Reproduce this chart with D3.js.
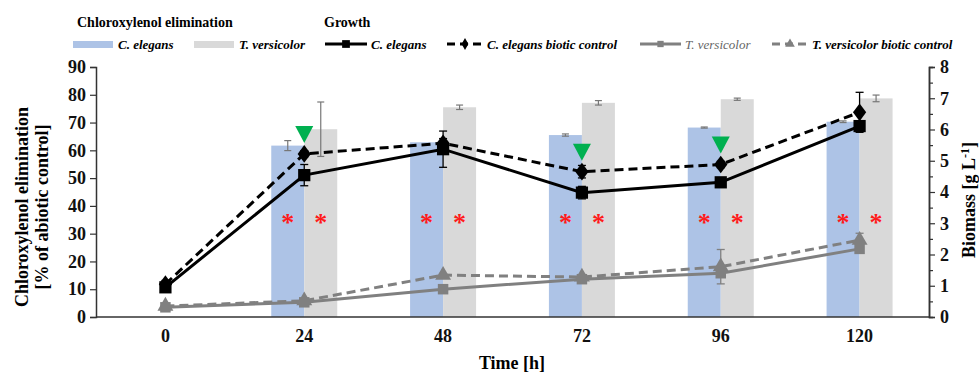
<!DOCTYPE html>
<html><head><meta charset="utf-8">
<script src="https://cdn.jsdelivr.net/npm/d3@7"></script>
<style>body{margin:0;background:#fff}svg{display:block}text{font-family:"Liberation Serif","Times New Roman",serif}</style>
</head><body><svg id="c" width="979" height="374"></svg>
<script>
const times = ["0","24","48","72","96","120"];
const leftTicks = [0,10,20,30,40,50,60,70,80,90];
const rightTicks = [0,1,2,3,4,5,6,7,8];
// Chloroxylenol elimination (% of abiotic control)
const elimCe = [null,61.7,62.9,65.5,68.2,70.3];
const elimCeErr = [null,1.8,0,0.4,0.2,0.3];
const elimTv = [null,67.6,75.5,77.1,78.4,78.7];
const elimTvErr = [null,9.8,0.8,0.8,0.4,1.2];
// Biomass (g/L)
const bioCe = [0.95,4.54,5.37,3.98,4.31,6.11];
const bioCeErr = [0.1,0.34,0.58,0.2,0.1,0.1];
const bioCeCtrl = [1.05,5.22,5.56,4.65,4.88,6.55];
const bioCeCtrlErr = [0.12,0.1,0.15,0.2,0.1,0.64];
const bioTv = [0.31,0.47,0.89,1.21,1.40,2.18];
const bioTvErr = [0.05,0.05,0.05,0.05,0.1,0.1];
const bioTvCtrl = [0.35,0.52,1.34,1.28,1.61,2.46];
const bioTvCtrlErr = [0.05,0.05,0.05,0.05,0.55,0.22];
const greenMarks = ["24","72","96"];
const starLevel = 34.3;

const svg = d3.select("#c");
const L=96,R=929,T=67,B=317;
const x = d3.scaleBand().domain(times).range([L,R]);
const yL = d3.scaleLinear().domain([0,90]).range([B,T]);
const yR = d3.scaleLinear().domain([0,8]).range([B,T]);
const cx = d=>x(d)+x.bandwidth()/2;
const bw = 33;
const blue="#adc3e6", lgray="#d9d9d9", mgray="#808080";

// bars
const g = svg.append("g");
times.forEach((t,i)=>{
  if(elimCe[i]!=null){
    g.append("rect").attr("x",cx(t)-bw).attr("width",bw).attr("y",yL(elimCe[i])).attr("height",B-yL(elimCe[i])).attr("fill",blue);
  }
  if(elimTv[i]!=null){
    g.append("rect").attr("x",cx(t)).attr("width",bw).attr("y",yL(elimTv[i])).attr("height",B-yL(elimTv[i])).attr("fill",lgray);
  }
});
function errBar(xp,yv,e,scale,color,w,cap){
  if(!e) return;
  g.append("line").attr("x1",xp).attr("x2",xp).attr("y1",scale(yv-e)).attr("y2",scale(yv+e)).attr("stroke",color).attr("stroke-width",w);
  [yv-e,yv+e].forEach(v=>g.append("line").attr("x1",xp-cap).attr("x2",xp+cap).attr("y1",scale(v)).attr("y2",scale(v)).attr("stroke",color).attr("stroke-width",w));
}
times.forEach((t,i)=>{
  if(elimCe[i]!=null) errBar(cx(t)-bw/2,elimCe[i],elimCeErr[i],yL,"#777",1.2,3.5);
  if(elimTv[i]!=null) errBar(cx(t)+bw/2,elimTv[i],elimTvErr[i],yL,"#777",1.2,3.5);
});
// stars
times.forEach((t,i)=>{
  if(elimCe[i]==null) return;
  [cx(t)-bw/2,cx(t)+bw/2].forEach(xp=>g.append("text").attr("x",xp).attr("y",yL(starLevel)+9).attr("text-anchor","middle").attr("font-size",26).attr("font-weight","bold").attr("fill","#ff1a1a").text("*"));
});

// axes
const axL = svg.append("g").attr("transform",`translate(${L},0)`).call(d3.axisLeft(yL).tickValues(leftTicks).tickSize(6).tickPadding(4));
const axR = svg.append("g").attr("transform",`translate(${R},0)`).call(d3.axisRight(yR).tickValues(rightTicks).tickSize(6).tickPadding(5));
svg.append("g").attr("transform",`translate(${R},0)`).call(d3.axisRight(yR).tickValues(d3.range(0.5,8,1)).tickSize(4).tickFormat(""));
const axB = svg.append("g").attr("transform",`translate(0,${B})`).call(d3.axisBottom(x).tickSize(0).tickPadding(12));
svg.selectAll(".domain").attr("stroke","#333").attr("stroke-width",1.5);
svg.selectAll(".tick line").attr("stroke","#333").attr("stroke-width",1.2);
svg.selectAll(".tick text").attr("font-family","Liberation Serif").attr("font-size",18).attr("font-weight","bold").attr("fill","#111");
axB.select(".domain").attr("d",`M${L},0H${R}`);

// lines
function series(vals,errs,color,dash,marker,msize){
  const line = d3.line().x((d,i)=>cx(times[i])).y(d=>yR(d));
  times.forEach((t,i)=>errBar(cx(t),vals[i],errs[i],yR,color,1.3,4));
  g.append("path").datum(vals).attr("d",line).attr("fill","none").attr("stroke",color).attr("stroke-width",3).attr("stroke-dasharray",dash);
  const sym = d3.symbol().type(marker).size(msize);
  vals.forEach((v,i)=>g.append("path").attr("d",sym()).attr("transform",`translate(${cx(times[i])},${yR(v)})${marker===d3.symbolDiamond?" scale(1.3,1)":""}`).attr("fill",color));
}
series(bioTvCtrl,bioTvCtrlErr,mgray,"9,5",d3.symbolTriangle,110);
series(bioTv,bioTvErr,mgray,null,d3.symbolSquare,110);
series(bioCeCtrl,bioCeCtrlErr,"#000","9,5",d3.symbolDiamond,90);
series(bioCe,bioCeErr,"#000",null,d3.symbolSquare,150);

// green triangles
greenMarks.forEach(t=>{
  const i = times.indexOf(t);
  const yy = yR(bioCeCtrl[i]) - 19;
  g.append("path").attr("d",`M${cx(t)-9},${yy-9}L${cx(t)+9},${yy-9}L${cx(t)},${yy+8}Z`).attr("fill","#00b050");
});

// titles
svg.append("text").attr("transform","translate(28,207) rotate(-90)").attr("text-anchor","middle").attr("font-size",18).attr("font-weight","bold").text("Chloroxylenol elimination");
svg.append("text").attr("transform","translate(48,207) rotate(-90)").attr("text-anchor","middle").attr("font-size",18).attr("font-weight","bold").text("[% of abiotic control]");
const rt = svg.append("text").attr("transform","translate(975,200) rotate(-90)").attr("text-anchor","middle").attr("font-size",18).attr("font-weight","bold");
rt.append("tspan").text("Biomass [g L");
rt.append("tspan").attr("dy",-6).attr("font-size",12).text("-1");
rt.append("tspan").attr("dy",6).text("]");
svg.append("text").attr("x",512).attr("y",369).attr("text-anchor","middle").attr("font-size",18).attr("font-weight","bold").text("Time [h]");

// legend
const lg = svg.append("g");
lg.append("text").attr("x",77).attr("y",27).attr("font-size",14).attr("font-weight","bold").text("Chloroxylenol elimination");
lg.append("text").attr("x",324).attr("y",27).attr("font-size",14).attr("font-weight","bold").text("Growth");
const legY = 44;
lg.append("rect").attr("x",73).attr("y",legY-3).attr("width",40).attr("height",7).attr("fill",blue);
lg.append("text").attr("x",118).attr("y",legY+5).attr("font-size",13).attr("font-weight","bold").attr("font-style","italic").text("C. elegans");
lg.append("rect").attr("x",194).attr("y",legY-3).attr("width",40).attr("height",7).attr("fill",lgray);
lg.append("text").attr("x",239).attr("y",legY+5).attr("font-size",13).attr("font-weight","bold").attr("font-style","italic").text("T. versicolor");
function legLine(x0,x1,color,dash,marker,ms,label,bold,tcol){
  lg.append("line").attr("x1",x0).attr("x2",x1).attr("y1",legY).attr("y2",legY).attr("stroke",color).attr("stroke-width",3).attr("stroke-dasharray",dash);
  lg.append("path").attr("d",d3.symbol().type(marker).size(ms)()).attr("transform",`translate(${(x0+x1)/2},${legY})`).attr("fill",color);
  lg.append("text").attr("x",x1+4).attr("y",legY+5).attr("font-size",13).attr("font-weight",bold?"bold":"normal").attr("font-style","italic").attr("fill",tcol).text(label);
}
legLine(325,367,"#000",null,d3.symbolSquare,60,"C. elegans",true,"#000");
legLine(447,483,"#000","8,5",d3.symbolDiamond,40,"C. elegans biotic control",true,"#000");
legLine(640,681,mgray,null,d3.symbolSquare,40,"T. versicolor",false,"#666");
legLine(772,808,mgray,"8,5",d3.symbolTriangle,40,"T. versicolor biotic control",true,"#000");
</script></body></html>
